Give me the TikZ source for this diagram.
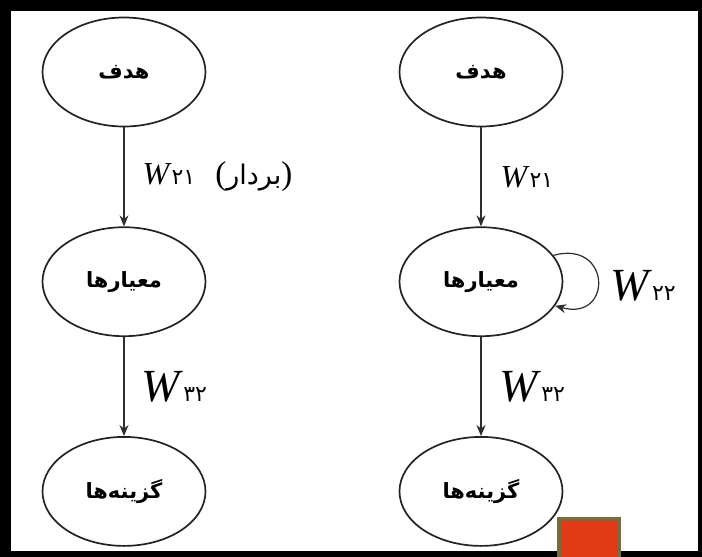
\documentclass[tikz,border=0pt]{standalone}
\usepackage{fontspec}
\setmainfont{Liberation Serif}
\newfontfamily\arabicfont[Script=Arabic]{DejaVu Sans}
\TeXXeTstate=1
\usetikzlibrary{arrows.meta,positioning,shapes.geometric}
\definecolor{nodegray}{RGB}{35,35,35}
\definecolor{arrowgray}{RGB}{45,45,45}
\definecolor{tagred}{RGB}{226,58,22}
\definecolor{tagbrown}{RGB}{122,106,66}
\tikzset{
    ell/.style={ellipse, draw=nodegray, line width=1.7pt, minimum width=163pt,
                minimum height=109pt, inner sep=0pt,
                font=\arabicfont\bfseries\fontsize{21}{21}\selectfont},
    arr/.style={-{Stealth[length=11pt,width=9pt]}, line width=1.2pt, draw=arrowgray},
    wlbl/.style={inner sep=0pt, font=\fontsize{32}{32}\selectfont},
    wbig/.style={inner sep=0pt, font=\fontsize{46}{46}\selectfont},
}
\newcommand{\wsub}[2]{\textit{W}{\arabicfont\fontsize{#1}{#1}\selectfont #2}}

\begin{document}
\begin{tikzpicture}[x=1pt, y=1pt, node distance=99pt]
    \useasboundingbox (0,0) rectangle (702,-557);
    % frame
    \fill[black] (0,0) rectangle (702,-557);
    \fill[white] (11,-11) rectangle (698,-551);

    % left column
    \node[ell] (goalL) at (124,-72) {\beginR هدف\endR};
    \node[ell, below=of goalL] (critL) {\beginR معیارها\endR};
    \node[ell, below=of critL] (altL)  {\beginR گزینه‌ها\endR};

    % right column
    \node[ell] (goalR) at (481,-72) {\beginR هدف\endR};
    \node[ell, below=of goalR] (critR) {\beginR معیارها\endR};
    \node[ell, below=of critR] (altR)  {\beginR گزینه‌ها\endR};

    \draw[arr] (goalL) -- node[wlbl, right=18pt] (w21L)
        {\wsub{22}{۲۱}\hspace{20pt}{\fontsize{33}{33}\selectfont(}{\arabicfont\fontsize{27}{27}\selectfont\beginR بردار\endR}{\fontsize{33}{33}\selectfont)}} (critL);
    \draw[arr] (critL) -- node[wbig, right=17pt] (w32L) {\wsub{22}{۳۲}} (altL);

    \draw[arr] (goalR) -- node[wlbl, right=19pt] (w21R) {\wsub{22}{۲۱}} (critR);
    \draw[arr] (critR) -- node[wbig, right=18pt] (w32R) {\wsub{22}{۳۲}} (altR);
    \draw[arr] (critR.20) .. controls +(58,16) and +(58,-16) .. (critR.-18);
    \node[wbig, anchor=west] (w22) at (610,-286) {\wsub{22}{۲۲}};

    % marker
    \draw[draw=tagbrown, fill=tagred, line width=4pt] (559,-519) rectangle (619,-562);
\end{tikzpicture}
\end{document}
